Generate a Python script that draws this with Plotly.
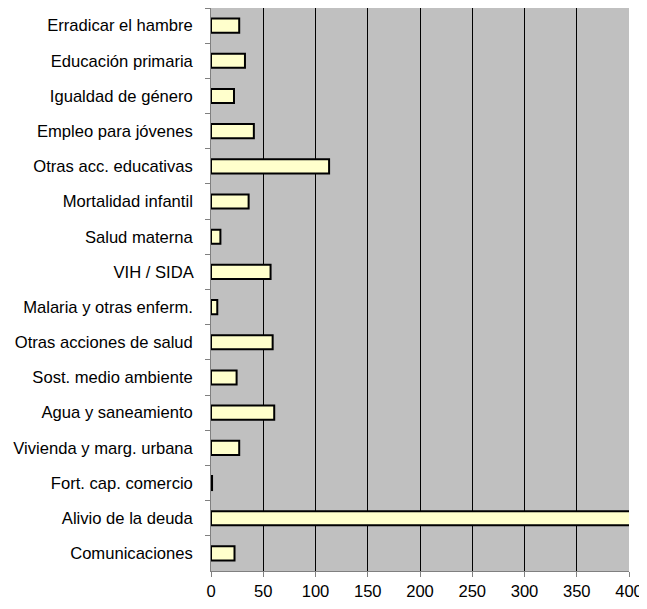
import plotly.graph_objects as go

categorias = [
    "Erradicar el hambre",
    "Educación primaria",
    "Igualdad de género",
    "Empleo para jóvenes",
    "Otras acc. educativas",
    "Mortalidad infantil",
    "Salud materna",
    "VIH / SIDA",
    "Malaria y otras enferm.",
    "Otras acciones de salud",
    "Sost. medio ambiente",
    "Agua y saneamiento",
    "Vivienda y marg. urbana",
    "Fort. cap. comercio",
    "Alivio de la deuda",
    "Comunicaciones",
]
valores = [27, 32.5, 22, 41, 113, 36, 9, 57, 6, 59, 24.5, 60.5, 27, 1, 450, 22.5]

fig = go.Figure(go.Bar(
    x=valores,
    y=categorias,
    orientation="h",
    width=0.4,
    marker=dict(color="#FFFFCC", line=dict(color="black", width=2)),
))

# the page body adds an 8px offset all round; keep the figure inside the window
fig.update_layout(
    width=639,
    height=593,
    margin=dict(l=203, r=18, t=0, b=30, autoexpand=False),
    paper_bgcolor="white",
    plot_bgcolor="#C0C0C0",
    font=dict(family="Liberation Sans, Arial, sans-serif", size=16.6, color="black"),
    showlegend=False,
)
fig.update_xaxes(
    range=[0, 400],
    dtick=50,
    showgrid=True,
    gridcolor="black",
    gridwidth=1,
    zeroline=False,
    showline=True,
    linecolor="#808080",
    linewidth=1,
    mirror=True,
    ticks="outside",
    ticklen=5,
    tickcolor="#808080",
)
fig.update_yaxes(
    autorange="reversed",
    showgrid=False,
    showline=True,
    linecolor="#808080",
    linewidth=1,
    ticks="outside",
    tickson="boundaries",
    ticklen=5,
    tickcolor="#808080",
    ticksuffix="   ",
)

fig.write_html("out.html")
